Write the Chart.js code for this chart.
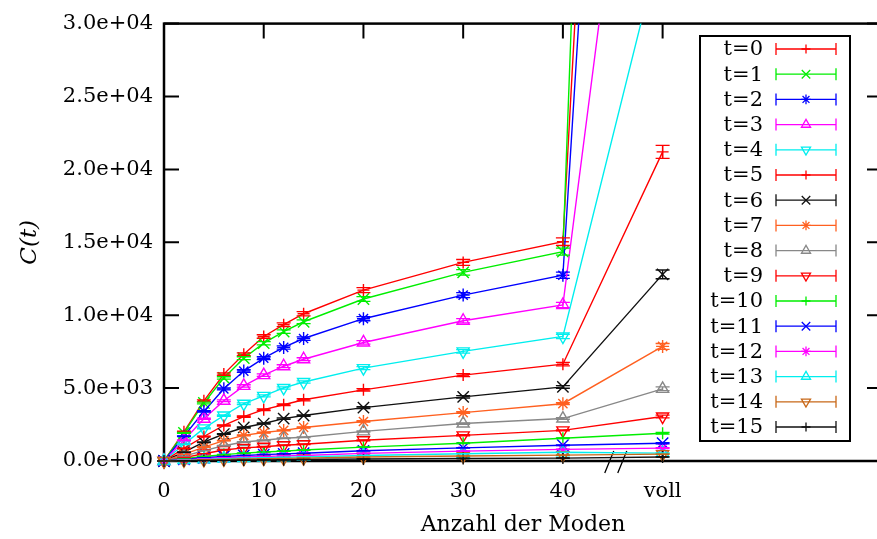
<!DOCTYPE html>
<html>
<head>
<meta charset="utf-8">
<script src="https://cdn.jsdelivr.net/npm/chart.js@4/dist/chart.umd.min.js"></script>
<style>
  html, body { margin: 0; padding: 0; overflow: hidden; background: #fff; }
  #wrap { width: 900px; height: 539px; }
</style>
</head>
<body>
<div id="wrap"><canvas id="c" width="900" height="539"></canvas></div>
<script>
// Number of modes (x); the last entry is the full basis ("voll")
const modes = [0, 2, 4, 6, 8, 10, 12, 14, 20, 30, 40, 50];
const xTickValues = [0, 10, 20, 30, 40, 50];
const xTickLabels = ['0', '10', '20', '30', '40', 'voll'];
const yTickValues = [0, 5000, 10000, 15000, 20000, 25000, 30000];
const yTickLabels = ['0.0e+00', '5.0e+03', '1.0e+04', '1.5e+04', '2.0e+04', '2.5e+04', '3.0e+04'];
const seriesLabels = ['t=0', 't=1', 't=2', 't=3', 't=4', 't=5', 't=6', 't=7',
                      't=8', 't=9', 't=10', 't=11', 't=12', 't=13', 't=14', 't=15'];

// C(t) per time step
const c_t0  = [0, 2000, 4130, 5960, 7320, 8540, 9350, 10100, 11720, 13620, 15040, 140000];
const c_t1  = [0, 1930, 3980, 5700, 7050, 8080, 8880, 9550, 11110, 12940, 14360, 200000];
const c_t2  = [0, 1700, 3400, 4950, 6170, 7050, 7790, 8400, 9760, 11380, 12740, 122000];
const c_t3  = [0, 1420, 2900, 4130, 5150, 5890, 6500, 6980, 8130, 9620, 10700, 64000];
const c_t4  = [0, 1150, 2240, 3120, 3930, 4470, 5010, 5420, 6370, 7520, 8540, 36000];
const c_t5  = [0, 860, 1680, 2440, 3050, 3520, 3860, 4200, 4880, 5890, 6640, 21200];
const c_t6  = [0, 610, 1290, 1850, 2300, 2570, 2910, 3120, 3660, 4400, 5080, 12800];
const c_t7  = [0, 450, 950, 1400, 1760, 1950, 2100, 2300, 2710, 3320, 3930, 7860];
const c_t8  = [0, 330, 700, 1050, 1300, 1420, 1560, 1630, 2030, 2570, 2910, 4950];
const c_t9  = [0, 230, 500, 750, 900, 980, 1080, 1150, 1420, 1760, 2100, 3050];
const c_t10 = [0, 150, 310, 440, 540, 620, 680, 750, 950, 1220, 1560, 1900];
const c_t11 = [0, 110, 220, 310, 380, 440, 490, 530, 700, 900, 1080, 1220];
const c_t12 = [0, 80, 160, 220, 270, 310, 350, 380, 520, 680, 800, 880];
const c_t13 = [0, 60, 110, 160, 200, 230, 250, 280, 380, 500, 600, 540];
const c_t14 = [0, 40, 80, 110, 140, 160, 180, 200, 270, 340, 400, 470];
const c_t15 = [0, 20, 40, 60, 70, 80, 90, 100, 140, 170, 200, 270];

// statistical errors of C(t)
const err_t0  = [0, 40, 60, 80, 100, 120, 130, 140, 170, 200, 260, 2500];
const err_t1  = [0, 40, 60, 80, 100, 110, 120, 130, 160, 190, 240, 3500];
const err_t2  = [0, 30, 50, 70, 90, 100, 110, 120, 140, 170, 220, 2000];
const err_t3  = [0, 30, 40, 60, 80, 90, 100, 100, 120, 150, 180, 1100];
const err_t4  = [0, 20, 30, 50, 60, 70, 80, 80, 100, 120, 150, 700];
const err_t5  = [0, 20, 30, 40, 50, 60, 60, 70, 80, 100, 120, 450];
const err_t6  = [0, 10, 20, 30, 40, 40, 50, 50, 60, 80, 90, 300];
const err_t7  = [0, 10, 20, 20, 30, 30, 40, 40, 50, 60, 70, 200];
const err_t8  = [0, 10, 10, 20, 20, 30, 30, 30, 40, 50, 60, 130];
const err_t9  = [0, 10, 10, 10, 20, 20, 20, 20, 30, 40, 40, 90];
const err_t10 = [0, 5, 10, 10, 10, 10, 15, 15, 20, 30, 30, 60];
const err_t11 = [0, 5, 5, 10, 10, 10, 10, 10, 15, 20, 25, 40];
const err_t12 = [0, 5, 5, 5, 10, 10, 10, 10, 10, 15, 20, 30];
const err_t13 = [0, 5, 5, 5, 5, 5, 10, 10, 10, 10, 15, 20];
const err_t14 = [0, 5, 5, 5, 5, 5, 5, 5, 10, 10, 10, 15];
const err_t15 = [0, 5, 5, 5, 5, 5, 5, 5, 5, 5, 10, 10];

const values = [c_t0, c_t1, c_t2, c_t3, c_t4, c_t5, c_t6, c_t7, c_t8, c_t9, c_t10, c_t11, c_t12, c_t13, c_t14, c_t15];
const errors = [err_t0, err_t1, err_t2, err_t3, err_t4, err_t5, err_t6, err_t7, err_t8, err_t9, err_t10, err_t11, err_t12, err_t13, err_t14, err_t15];

const colors = ['#ff0000', '#00ee00', '#0000ff', '#ff00ff', '#00eeee', '#ff0000', '#111111', '#ff6020',
                '#888888', '#ff0000', '#00ee00', '#0000ff', '#ff00ff', '#00eeee', '#c86818', '#111111'];
const marks = ['cross', 'crossRot', 'star', 'triangle', 'triangle'];
const markSize = { cross: 6, crossRot: 8, star: 6.5, triangle: 7 };
const SERIF = "'DejaVu Serif', 'Liberation Serif', serif";

const datasets = seriesLabels.map((label, i) => {
  const m = marks[i % 5];
  return {
    label,
    data: modes.map((x, j) => ({ x, y: values[i][j] })),
    errors: errors[i],
    borderColor: colors[i],
    backgroundColor: 'transparent',
    pointBackgroundColor: 'transparent',
    pointBorderColor: colors[i],
    pointStyle: m,
    pointRotation: (i % 5 === 4) ? 180 : 0,
    pointRadius: markSize[m],
    pointBorderWidth: 1.4,
    borderWidth: 1.4,
    tension: 0,
    showLine: true,
    order: 15 - i,
    clip: { left: 10, top: 0, right: 0, bottom: 10 }
  };
});

// frame with inward ticks on all four sides, plus the axis break marker
const framePlugin = {
  id: 'frame',
  beforeDatasetsDraw(chart) {
    const { ctx, chartArea: a, scales: { x, y } } = chart;
    ctx.save();
    ctx.strokeStyle = '#000';
    ctx.lineWidth = 2.5;
    ctx.strokeRect(a.left, a.top, a.right - a.left, a.bottom - a.top);
    ctx.lineWidth = 2;
    const tl = 15;
    ctx.beginPath();
    xTickValues.forEach(v => {
      const px = x.getPixelForValue(v);
      ctx.moveTo(px, a.bottom); ctx.lineTo(px, a.bottom - tl);
      ctx.moveTo(px, a.top); ctx.lineTo(px, a.top + tl);
    });
    yTickValues.forEach(v => {
      const py = y.getPixelForValue(v);
      ctx.moveTo(a.left, py); ctx.lineTo(a.left + tl, py);
      ctx.moveTo(a.right, py); ctx.lineTo(a.right - tl, py);
    });
    ctx.stroke();
    // "//" break between 40 and voll
    const breakAt = 45;
    const bx = x.getPixelForValue(breakAt);
    ctx.lineWidth = 1.3;
    ctx.beginPath();
    ctx.moveTo(bx - 8, a.bottom + 12); ctx.lineTo(bx + 1, a.bottom - 10);
    ctx.moveTo(bx + 5, a.bottom + 12); ctx.lineTo(bx + 14, a.bottom - 10);
    ctx.stroke();
    ctx.restore();
  }
};

// error bars with caps, in scale coordinates
const errorBarPlugin = {
  id: 'errorBars',
  afterDatasetsDraw(chart) {
    const { ctx, chartArea: a, scales: { y } } = chart;
    ctx.save();
    ctx.beginPath();
    ctx.rect(a.left - 10, a.top, a.right - a.left + 10, a.bottom - a.top + 10);
    ctx.clip();
    chart.data.datasets.forEach((ds, i) => {
      const meta = chart.getDatasetMeta(i);
      ctx.strokeStyle = ds.borderColor;
      ctx.lineWidth = 1.3;
      ctx.beginPath();
      meta.data.forEach((pt, j) => {
        const v = ds.data[j].y, e = ds.errors[j];
        const y1 = y.getPixelForValue(v - e), y2 = y.getPixelForValue(v + e);
        ctx.moveTo(pt.x, y1); ctx.lineTo(pt.x, y2);
        ctx.moveTo(pt.x - 7, y1); ctx.lineTo(pt.x + 7, y1);
        ctx.moveTo(pt.x - 7, y2); ctx.lineTo(pt.x + 7, y2);
      });
      ctx.stroke();
    });
    ctx.restore();
  }
};

// boxed key with error-bar samples
const keyPlugin = {
  id: 'key',
  afterDraw(chart) {
    const { ctx } = chart;
    const box = { l: 700, t: 36, w: 150, h: 405 };
    ctx.save();
    ctx.fillStyle = '#fff';
    ctx.fillRect(box.l, box.t, box.w, box.h);
    ctx.strokeStyle = '#000';
    ctx.lineWidth = 2;
    ctx.strokeRect(box.l, box.t, box.w, box.h);
    ctx.font = '21px ' + SERIF;
    ctx.textAlign = 'right';
    ctx.textBaseline = 'middle';
    chart.data.datasets.forEach((ds, i) => {
      const yy = 49 + i * 25.2;
      ctx.fillStyle = '#000';
      ctx.fillText(ds.label, 763, yy + 1);
      ctx.strokeStyle = ds.borderColor;
      ctx.lineWidth = 1.3;
      ctx.beginPath();
      ctx.moveTo(776, yy); ctx.lineTo(836, yy);
      ctx.moveTo(776, yy - 6); ctx.lineTo(776, yy + 6);
      ctx.moveTo(836, yy - 6); ctx.lineTo(836, yy + 6);
      ctx.stroke();
      ctx.fillStyle = 'rgba(0,0,0,0)';
      Chart.helpers.drawPoint(ctx, {
        pointStyle: ds.pointStyle,
        rotation: ds.pointRotation,
        radius: ds.pointRadius * 0.75,
        borderWidth: 1.3
      }, 806, yy);
    });
    ctx.restore();
  }
};

new Chart(document.getElementById('c'), {
  type: 'scatter',
  data: { datasets },
  options: {
    responsive: false,
    animation: false,
    devicePixelRatio: 1,
    layout: { padding: { top: 18, right: 18, left: 0, bottom: 0 } },
    plugins: { legend: { display: false }, tooltip: { enabled: false } },
    scales: {
      x: {
        type: 'linear', min: 0, max: 72,
        grid: { display: false, drawTicks: false },
        border: { display: false },
        afterBuildTicks: s => { s.ticks = xTickValues.map(v => ({ value: v })); },
        afterFit: s => { s.height = 78; },
        ticks: {
          callback: (v, idx) => xTickLabels[idx],
          padding: 18, color: '#000', maxRotation: 0, autoSkip: false,
          font: { family: SERIF, size: 21 }
        },
        title: {
          display: true, text: 'Anzahl der Moden', color: '#000',
          font: { family: SERIF, size: 22 }, padding: { top: 0, bottom: 1 }
        }
      },
      y: {
        type: 'linear', min: 0, max: 30000,
        grid: { display: false, drawTicks: false },
        border: { display: false },
        afterBuildTicks: s => { s.ticks = yTickValues.map(v => ({ value: v })); },
        afterFit: s => { s.width = 164; },
        ticks: {
          callback: (v, idx) => yTickLabels[idx],
          padding: 11, color: '#000',
          font: { family: SERIF, size: 21 }
        },
        title: {
          display: true, text: 'C(t)', color: '#000',
          font: { family: SERIF, size: 23, style: 'italic' }, padding: { top: 16, bottom: 0 }
        }
      }
    }
  },
  plugins: [framePlugin, errorBarPlugin, keyPlugin]
});
</script>
</body>
</html>
